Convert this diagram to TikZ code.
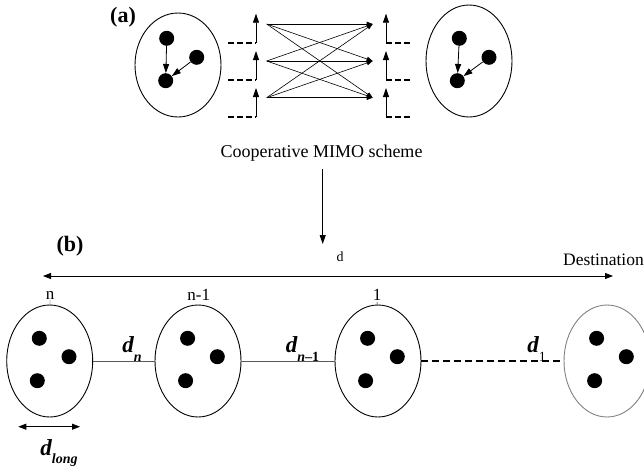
\documentclass[tikz,border=0pt]{standalone}
\usepackage{fontspec}
\setmainfont{Liberation Serif}
\usetikzlibrary{shapes.geometric,arrows.meta}
\newcommand\mysubs[1]{\raisebox{-0.35em}{\fontsize{14}{14}\selectfont #1}}
\begin{document}
\begin{tikzpicture}[x=1pt,y=-1pt,
  grp/.style={draw,ellipse,minimum width=86pt,minimum height=112pt,inner sep=0pt,line width=0.9pt},
  dot/.style={circle,fill=black,minimum size=15pt,inner sep=0pt},
  arr/.style={-{Triangle[length=9pt,width=6pt]},line width=0.8pt},
  arrs/.style={-{Triangle[length=6pt,width=4.5pt]},line width=0.6pt},
  darr/.style={{Triangle[length=8pt,width=6pt]}-{Triangle[length=8pt,width=6pt]},line width=0.8pt},
  dsh/.style={dash pattern=on 6pt off 3pt,line width=1.7pt},
  lbl/.style={font=\fontsize{17}{19}\selectfont,inner sep=1pt},
  dlab/.style={font=\fontsize{23}{25}\selectfont\bfseries\itshape,inner sep=0pt}
]
\useasboundingbox (0,0) rectangle (644,472);

% ---------- (a) ----------
\node[font=\bfseries\fontsize{22}{24}\selectfont] (la) at (123,17) {(a)};
\node[grp,minimum height=104pt] (L) at (178,65) {};
\node[dot] (L1) at (166.7,38.3) {};
\node[dot] (L2) at (196.7,57.3) {};
\node[dot] (L3) at (165.7,80.7) {};
\draw[arr] (L1) -- (L3);
\draw[arr] (L2) -- (L3);

\foreach \y/\n in {42.7/1,80/2,117/3} {
  \coordinate (ld\n) at (228,\y);
  \coordinate (lb\n) at (256,\y);
  \coordinate (lt\n) at (256,\y-29);
  \draw[dsh] (ld\n) -- (lb\n);
  \draw[arr] (lb\n) -- (lt\n);
  \coordinate (rb\n) at (386,\y);
  \coordinate (rt\n) at (386,\y-29);
  \coordinate (rd\n) at (413,\y);
  \draw[dsh] (rb\n) -- (rd\n);
  \draw[arr] (rb\n) -- (rt\n);
}
\foreach \i/\y in {1/24,2/61,3/97.7} {
  \coordinate (s\i) at (266.7,\y);
  \coordinate (r\i) at (372.7,\y);
}
\foreach \i in {1,2,3} {\foreach \j in {1,2,3} {\draw[arrs] (s\i) -- (r\j);}}

\node[grp] (R) at (469,61) {};
\node[dot] (R1) at (459.3,38.3) {};
\node[dot] (R2) at (489,57.3) {};
\node[dot] (R3) at (457.3,80.7) {};
\draw[arr] (R1) -- (R3);
\draw[arr] (R2) -- (R3);

\node[font=\fontsize{18}{20}\selectfont] (cap) at (321.5,153) {Cooperative MIMO scheme};
\coordinate (a0) at (322.7,169);
\coordinate (a1) at (322.7,244);
\draw[arr] (a0) -- (a1);

% ---------- (b) ----------
\node[font=\bfseries\fontsize{22}{24}\selectfont] (lb) at (70,246.7) {(b)};
\node[font=\fontsize{14}{16}\selectfont] (dl) at (340,257) {d};
\node[font=\fontsize{17.5}{20}\selectfont,inner sep=0pt] (dest) at (603.5,260) {Destination};
\coordinate (dL) at (43,276);
\coordinate (dR) at (613,276);
\draw[darr] (dL) -- (dR);

\foreach \n/\x/\c in {1/49.7/black,2/198/black,3/378/black,4/607/gray} {
  \node[grp,draw=\c] (E\n) at (\x,361) {};
  \node[dot] (E\n a) at (\x-10.4,338.3) {};
  \node[dot] (E\n b) at (\x+19.3,356.7) {};
  \node[dot] (E\n c) at (\x-12.4,380.7) {};
}
\draw[gray!70!black,line width=0.8pt] (E1) -- (E2);
\draw[gray!70!black,line width=0.8pt] (E2) -- (E3);
\draw[dash pattern=on 7pt off 4pt,line width=1.5pt] (E3) -- (E4);

\node[lbl] (n1) at (50,295) {n};
\node[lbl] (n2) at (198.7,295) {n-1};
\node[lbl] (n3) at (377,295) {1};
\draw[line width=0.4pt] (n1) -- (E1);
\draw[line width=0.4pt] (n3) -- (E3);

\node[dlab] (dn) at (132,349) {d\mysubs{n}};
\node[dlab] (dn1) at (302.5,349) {d\mysubs{n\upshape –1}};
\node[dlab] (d1) at (536.7,349) {d\mysubs{\mdseries\upshape 1}};

\coordinate (gL) at (18.3,426.7);
\coordinate (gR) at (80,426.7);
\draw[darr] (gL) -- (gR);
\node[dlab] (dlong) at (59,453) {d\mysubs{long}};
\end{tikzpicture}
\end{document}
